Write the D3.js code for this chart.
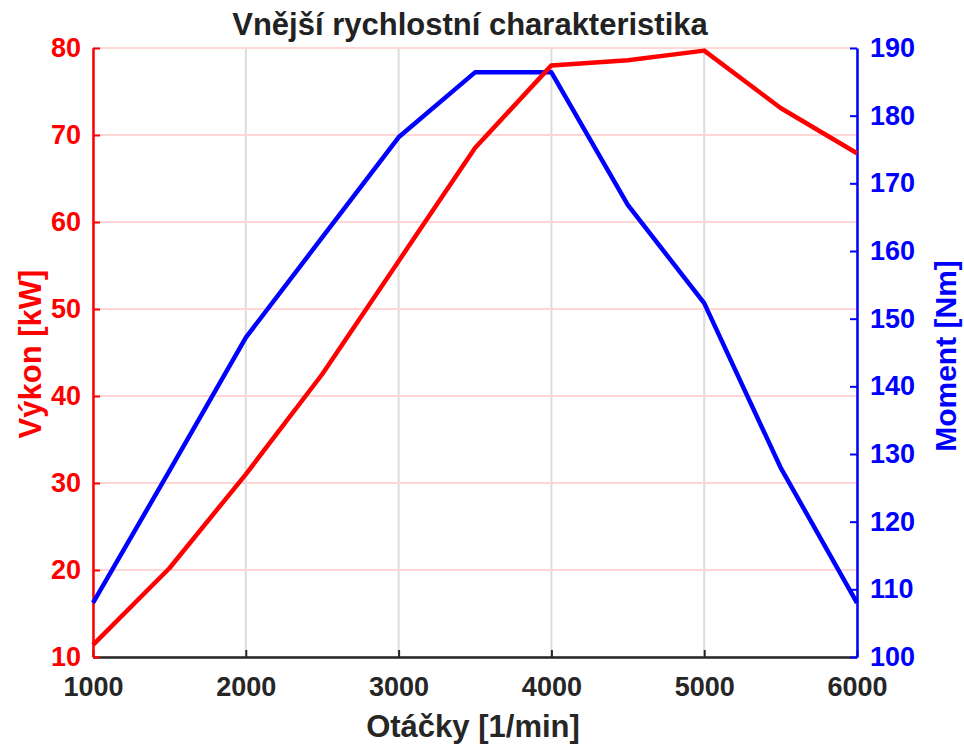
<!DOCTYPE html>
<html>
<head>
    <meta charset="utf-8">
    <script src="https://d3js.org/d3.v7.min.js"></script>
    <title>Vnější rychlostní charakteristika</title>
    <style>
        body { margin: 0; background: #fff; }
        svg text { font-family: "Liberation Sans", Arial, sans-serif; font-weight: bold; }
    </style>
</head>
<body>
    <svg id="chart"></svg>
    <script>
        // otáčky [1/min]
        var rpm = [1000, 1500, 2000, 2500, 3000, 3500, 4000, 4500, 5000, 5500, 6000]
        // výkon [kW]
        var power = [11.4, 20.2, 31.0, 42.5, 55.5, 68.5, 78.0, 78.6, 79.7, 73.1, 67.9]
        // moment [Nm]
        var torque = [108.0, 127.5, 147.2, 162.0, 176.8, 186.4, 186.4, 166.8, 152.3, 128.0, 108.0]

        var xTicks = [1000, 2000, 3000, 4000, 5000, 6000]
        var leftTicks = [10, 20, 30, 40, 50, 60, 70, 80]
        var rightTicks = [100, 110, 120, 130, 140, 150, 160, 170, 180, 190]

        var W = 964, H = 744
        var m = {top: 48, right: 107, bottom: 87, left: 93}
        var iw = W - m.left - m.right
        var ih = H - m.top - m.bottom

        var svg = d3.select('#chart').attr('width', W).attr('height', H)
        var g = svg.append('g').attr('transform', 'translate(' + m.left + ',' + m.top + ')')

        var x = d3.scaleLinear().domain([1000, 6000]).range([0, iw])
        var yL = d3.scaleLinear().domain([10, 80]).range([ih, 0])
        var yR = d3.scaleLinear().domain([100, 190]).range([ih, 0])

        // mřížka
        g.append('g').selectAll('line').data(xTicks).enter().append('line')
            .attr('x1', d => x(d)).attr('x2', d => x(d))
            .attr('y1', 0).attr('y2', ih)
            .attr('stroke', '#dcdcdc').attr('stroke-width', 2)
        g.append('g').selectAll('line').data(leftTicks).enter().append('line')
            .attr('x1', 0).attr('x2', iw)
            .attr('y1', d => yL(d)).attr('y2', d => yL(d))
            .attr('stroke', '#ffd6d6').attr('stroke-width', 2)

        // osy
        var xAxis = g.append('g').attr('transform', 'translate(0,' + ih + ')')
            .call(d3.axisBottom(x).tickValues(xTicks).tickFormat(d3.format('d')).tickSizeInner(-7).tickSizeOuter(0).tickPadding(20))
        xAxis.select('.domain').attr('stroke', '#262626').attr('stroke-width', 2.5)
        xAxis.selectAll('.tick line').attr('stroke', '#262626').attr('stroke-width', 2)
        xAxis.selectAll('text').attr('fill', '#262626').attr('font-size', 27)

        var lAxis = g.append('g')
            .call(d3.axisLeft(yL).tickValues(leftTicks).tickSizeInner(-7).tickSizeOuter(0).tickPadding(12))
        lAxis.select('.domain').attr('stroke', 'red').attr('stroke-width', 2.5)
        lAxis.selectAll('.tick line').attr('stroke', 'red').attr('stroke-width', 2)
        lAxis.selectAll('text').attr('fill', 'red').attr('font-size', 27)

        var rAxis = g.append('g').attr('transform', 'translate(' + iw + ',0)')
            .call(d3.axisRight(yR).tickValues(rightTicks).tickSizeInner(-7).tickSizeOuter(0).tickPadding(13))
        rAxis.select('.domain').attr('stroke', 'blue').attr('stroke-width', 2.5)
        rAxis.selectAll('.tick line').attr('stroke', 'blue').attr('stroke-width', 2)
        rAxis.selectAll('text').attr('fill', 'blue').attr('font-size', 27)

        // křivky
        var lineT = d3.line().x((d, i) => x(rpm[i])).y(d => yR(d))
        var lineP = d3.line().x((d, i) => x(rpm[i])).y(d => yL(d))
        g.append('path').datum(torque).attr('d', lineT)
            .attr('fill', 'none').attr('stroke', 'blue').attr('stroke-width', 4.5).attr('stroke-linejoin', 'round')
        g.append('path').datum(power).attr('d', lineP)
            .attr('fill', 'none').attr('stroke', 'red').attr('stroke-width', 4.5).attr('stroke-linejoin', 'round')

        // popisky
        svg.append('text').attr('x', 470).attr('y', 35).attr('text-anchor', 'middle')
            .attr('font-size', 31).attr('fill', '#222').text('Vnější rychlostní charakteristika')
        svg.append('text').attr('x', 473).attr('y', 737).attr('text-anchor', 'middle')
            .attr('font-size', 31).attr('fill', '#262626').text('Otáčky [1/min]')
        svg.append('text').attr('transform', 'translate(41,354) rotate(-90)')
            .attr('text-anchor', 'middle').attr('font-size', 31).attr('fill', 'red').text('Výkon [kW]')
        svg.append('text').attr('transform', 'translate(956,356) rotate(-90)')
            .attr('text-anchor', 'middle').attr('font-size', 30).attr('fill', 'blue').text('Moment [Nm]')
    </script>
</body>
</html>
